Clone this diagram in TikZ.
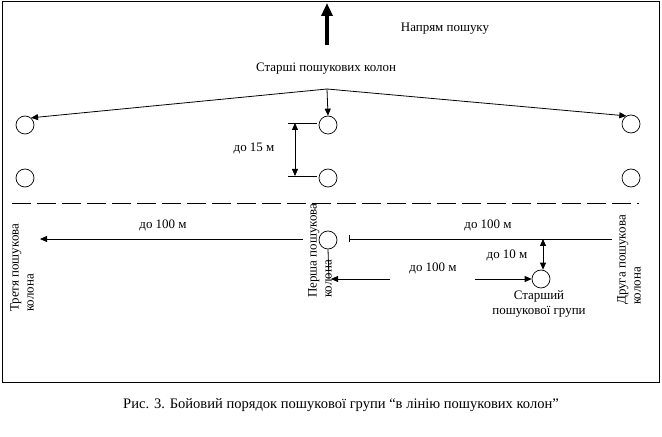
\documentclass[tikz,border=0pt]{standalone}
\usepackage{fontspec}
\setmainfont{Liberation Serif}
\usetikzlibrary{arrows.meta}
\begin{document}
\begin{tikzpicture}[x=1bp,y=-1bp,
  lbl/.style={font=\fontsize{13}{15}\selectfont, inner sep=0pt},
  rot/.style={lbl, rotate=90, anchor=west, align=left},
  col/.style={circle, draw, minimum size=18bp, inner sep=0pt, line width=0.7bp},
  ln/.style={line width=0.8bp},
  tipend/.style={-{Triangle[length=7bp,width=6bp]}},
  dtip/.style={{Triangle[length=7bp,width=6bp]}-{Triangle[length=7bp,width=6bp]}}]
\useasboundingbox (0,0) rectangle (662,437);
\draw[line width=1bp] (2,2) rectangle (659,382);
% direction arrow
\coordinate (bigtail) at (327,45);
\coordinate (bigtip) at (327,3);
\draw[line width=3.3bp,-{Triangle[length=13bp,width=11bp]}] (bigtail) -- (bigtip);
\node[lbl] (dir) at (445,29) {Напрям пошуку};
\node[lbl] (senior) at (326,69) {Старші пошукових колон};
% columns
\node[col] (c1) at (25,125) {};
\node[col] (c2) at (328,125) {};
\node[col] (c3) at (631,124) {};
\node[col] (c4) at (25,178) {};
\node[col] (c5) at (328,178) {};
\node[col] (c6) at (631,178) {};
\node[col] (c7) at (328,240) {};
\node[col] (c8) at (541,279) {};
\coordinate (apex) at (327,89);
\draw[ln,tipend] (apex) -- (c1.50);
\draw[ln,tipend] (apex) -- (c3.120);
\draw[ln,tipend] (apex) -- (c2.north);
% 15 m dimension
\coordinate (d1a) at (288,123);
\coordinate (d1b) at (317,123);
\coordinate (d2a) at (288,176);
\coordinate (d2b) at (317,176);
\coordinate (dimtop) at (295,123);
\coordinate (dimbot) at (295,176);
\draw[ln] (d1a) -- (d1b);
\draw[ln] (d2a) -- (d2b);
\draw[ln,dtip] (dimtop) -- (dimbot);
\node[lbl] (l15) at (254,148) {до 15 м};
% dashed line
\coordinate (dl) at (12,203);
\coordinate (dr) at (639,203);
\draw[ln,dash pattern=on 19bp off 6bp] (dl) -- (dr);
% row
\coordinate (l1) at (303,239);
\coordinate (l1t) at (40,239);
\draw[ln,tipend] (l1) -- (l1t);
\node[lbl] (la) at (163,225) {до 100 м};
\coordinate (r1) at (349,239);
\coordinate (r1e) at (612,239);
\draw[ln,{Bar[width=7bp]}-] (r1) -- (r1e);
\node[lbl] (lb) at (488,225) {до 100 м};
\coordinate (v1) at (543,239);
\draw[ln,dtip] (v1) -- (v1 |- c8.north);
\node[lbl] (l10) at (507,255) {до 10 м};
\coordinate (vb) at (329,279);
\draw[ln] (c7.south) -- (vb);
\coordinate (m1) at (390,279);
\coordinate (m1t) at (331,279);
\draw[ln,tipend] (m1) -- (m1t);
\node[lbl] (lc) at (433,268) {до 100 м};
\coordinate (m2) at (475,279);
\draw[ln,tipend] (m2) -- (c8.west);
\node[lbl, align=center] (sg) at (539,304) {Старший\\пошукової групи};
% rotated labels
\node[rot] (first) at (320,298) {Перша пошукова\\колона};
\node[rot] (third) at (22,312) {Третя пошукова\\колона};
\node[rot] (second) at (629,305) {Друга пошукова\\колона};
% caption
\node[lbl, font=\fontsize{14.6}{17}\selectfont] (cap) at (341,405) {Рис. 3. Бойовий порядок пошукової групи “в лінію пошукових колон”};
\end{tikzpicture}
\end{document}
